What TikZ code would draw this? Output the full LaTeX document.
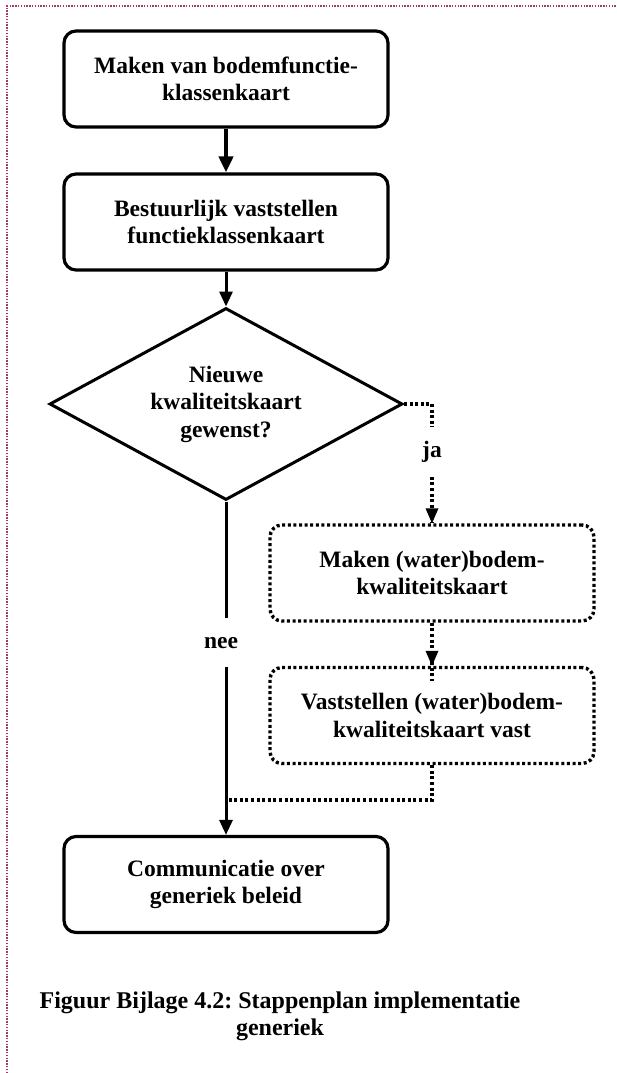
\documentclass[tikz,border=0pt]{standalone}
\usepackage{fontspec}
\setmainfont{Liberation Serif}
\usetikzlibrary{shapes.geometric,arrows.meta}
\definecolor{framecol}{RGB}{160,60,105}
\frenchspacing
\begin{document}
\begin{tikzpicture}[x=1pt,y=-1pt,
  txt/.style={font=\fontsize{23.5}{27.5}\selectfont\bfseries, align=center},
  stepbox/.style={txt, draw, line width=3.2pt, rounded corners=12pt,
    minimum width=324pt, minimum height=96pt, inner sep=0pt},
  optbox/.style={stepbox, line width=3.4pt, dash pattern=on 3pt off 2.6pt},
  choice/.style={txt, draw, diamond, line width=3pt, aspect=1.84,
    minimum width=353pt, minimum height=192pt, inner sep=0pt},
  flow/.style={line width=3pt, -{Triangle[width=13pt,length=15pt]}},
  bigflow/.style={line width=4.6pt, -{Triangle[width=14pt,length=16pt]}},
  dotflow/.style={line width=3.4pt, dash pattern=on 3pt off 2.6pt},
  gaplabel/.style={txt, fill=white, inner sep=0pt, minimum width=40pt},
  frame/.style={draw=framecol, line width=1.4pt, dash pattern=on 1.4pt off 1.4pt}
]
\useasboundingbox (0,0) rectangle (617,1073);

% page frame (top and left edge)
\draw[frame] (7,1073) -- (7,6) -- (617,6);

% process steps
\node[stepbox] (make)  at (226,79)  {Maken van bodemfunctie-\\klassenkaart};
\node[stepbox] (adopt) at (226,222) {Bestuurlijk vaststellen\\functieklassenkaart};
\node[choice]  (ask)   at (226,404) {Nieuwe\\kwaliteitskaart\\gewenst?};
\node[optbox]  (qmap)  at (432,573) {Maken (water)bodem-\\kwaliteitskaart};
\node[optbox]  (qfix)  at (432,715.5) {Vaststellen (water)bodem-\\kwaliteitskaart vast};
\node[stepbox] (comm)  at (226,884.5) {Communicatie over\\generiek beleid};

% caption
\node[txt, font=\fontsize{24}{27}\selectfont\bfseries] (cap) at (280,1016)
  {Figuur Bijlage 4.2: Stappenplan implementatie\\generiek};

% connectors
\coordinate (merge) at (226,800);
\draw[bigflow] (make.south) -- (adopt.north);
\draw[flow] (adopt.south) -- (ask.north);
\draw[dotflow] (ask.east) -| node[gaplabel, pos=0.70, minimum height=50pt] (ja) {ja} (qmap.north);
\fill (qmap.north) ++(-6.5,-15) -- ++(13,0) -- (qmap.north) -- cycle;
\draw[dotflow] (qmap.south) -- ([yshift=-15pt]qfix.north);
\fill (qfix.north) ++(-6.5,-15) -- ++(13,0) -- (qfix.north) -- cycle;
\draw[dotflow] (qfix.south) |- (merge);
\draw[flow] (ask.south) -- node[gaplabel, pos=0.424, minimum height=49pt, xshift=-5pt] (nee) {nee} (comm.north);
\end{tikzpicture}
\end{document}
